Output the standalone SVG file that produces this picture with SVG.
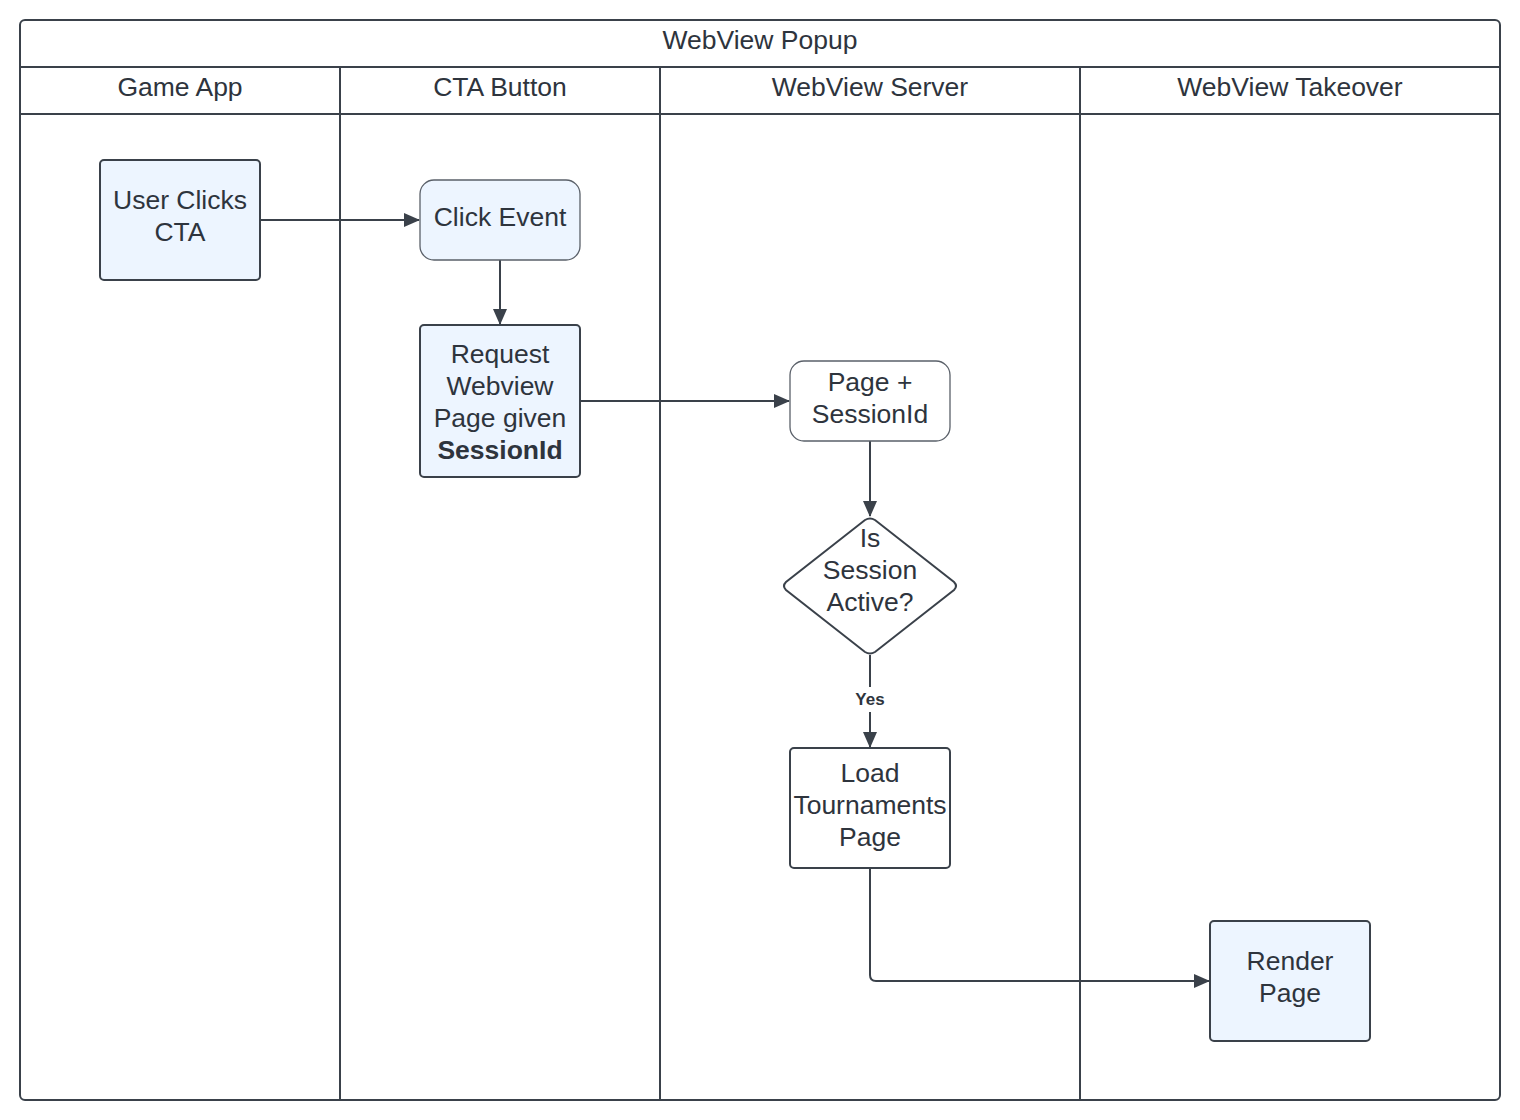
<svg xmlns="http://www.w3.org/2000/svg" width="1520" height="1120" viewBox="0 0 1520 1120">
<defs>
<style>
.t{font-family:"Liberation Sans",Arial,sans-serif;font-size:26.5px;fill:#2e343d;text-anchor:middle}
.b{font-weight:bold}
.lane{fill:none;stroke:#3a414a;stroke-width:2}
.n{stroke:#3a414a;stroke-width:2}
.thin{stroke:#5a6069;stroke-width:1.3}
.blue{fill:#edf5ff}
.white{fill:#ffffff}
.c{fill:none;stroke:#3a414a;stroke-width:2}
</style>
<marker id="ah" viewBox="0 0 16 14" refX="15" refY="7" markerWidth="16" markerHeight="14" markerUnits="userSpaceOnUse" orient="auto">
<path d="M0,0 L16,7 L0,14 z" fill="#3a414a"/>
</marker>
</defs>
<rect width="1520" height="1120" fill="#ffffff"/>
<g id="pool">
<rect x="20" y="20" width="1480" height="1080" rx="5" class="lane" fill="#fff"/>
<line x1="20" y1="67" x2="1500" y2="67" class="lane"/>
<line x1="20" y1="114" x2="1500" y2="114" class="lane"/>
<line x1="340" y1="67" x2="340" y2="1100" class="lane"/>
<line x1="660" y1="67" x2="660" y2="1100" class="lane"/>
<line x1="1080" y1="67" x2="1080" y2="1100" class="lane"/>
<text x="760" y="49" class="t">WebView Popup</text>
<text x="180" y="96" class="t">Game App</text>
<text x="500" y="96" class="t">CTA Button</text>
<text x="870" y="96" class="t">WebView Server</text>
<text x="1290" y="96" class="t">WebView Takeover</text>
</g>
<g id="connectors">
<line x1="260" y1="220" x2="419" y2="220" class="c" marker-end="url(#ah)"/>
<line x1="500" y1="260" x2="500" y2="324" class="c" marker-end="url(#ah)"/>
<line x1="580" y1="401" x2="789" y2="401" class="c" marker-end="url(#ah)"/>
<line x1="870" y1="441" x2="870" y2="516" class="c" marker-end="url(#ah)"/>
<path d="M870,655 V687 M870,712 V747" class="c" marker-end="url(#ah)"/>
<text x="870" y="705" class="t b" style="font-size:17px">Yes</text>
<path d="M870,868 V975 Q870,981 876,981 H1209" class="c" marker-end="url(#ah)"/>
</g>
<g id="user-clicks">
<rect x="100" y="160" width="160" height="120" rx="4" class="n blue"/>
<text x="180" y="209" class="t">User Clicks</text>
<text x="180" y="241" class="t">CTA</text>
</g>
<g id="click-event">
<rect x="420" y="180" width="160" height="80" rx="14" class="thin blue"/>
<text x="500" y="226" class="t">Click Event</text>
</g>
<g id="request">
<rect x="420" y="325" width="160" height="152" rx="4" class="n blue"/>
<text x="500" y="363" class="t">Request</text>
<text x="500" y="395" class="t">Webview</text>
<text x="500" y="427" class="t">Page given</text>
<text x="500" y="459" class="t b">SessionId</text>
</g>
<g id="page-session">
<rect x="790" y="361" width="160" height="80" rx="14" class="thin white"/>
<text x="870" y="391" class="t">Page +</text>
<text x="870" y="423" class="t">SessionId</text>
</g>
<g id="decision">
<path d="M865,520 Q870,517 875,520 L954,582 Q958,586 954,590 L875,652 Q870,655 865,652 L786,590 Q782,586 786,582 Z" class="n white"/>
<text x="870" y="547" class="t">Is</text>
<text x="870" y="579" class="t">Session</text>
<text x="870" y="611" class="t">Active?</text>
</g>
<g id="load-tournaments">
<rect x="790" y="748" width="160" height="120" rx="4" class="n white"/>
<text x="870" y="782" class="t">Load</text>
<text x="870" y="814" class="t">Tournaments</text>
<text x="870" y="846" class="t">Page</text>
</g>
<g id="render-page">
<rect x="1210" y="921" width="160" height="120" rx="4" class="n blue"/>
<text x="1290" y="970" class="t">Render</text>
<text x="1290" y="1002" class="t">Page</text>
</g>
</svg>
